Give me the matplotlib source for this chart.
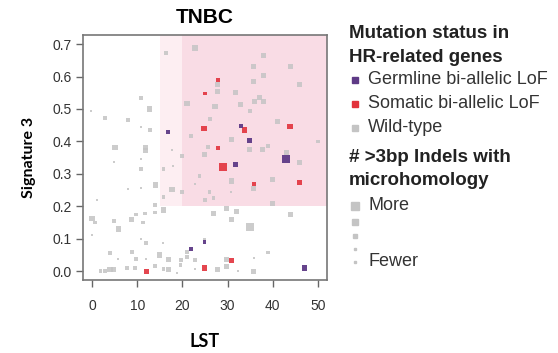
import matplotlib
matplotlib.use("Agg")
from matplotlib import pyplot as plt
from matplotlib.patches import Rectangle
import numpy as np

# wild-type tumours: LST score, signature 3 exposure, microhomology indel level (1 = fewest)
wt_lst = [22.8, 37.9, 35.8, 43.9, 35.8, 37.9, 46.0, 27.8, 31.8, 21.0, 27.2, 32.9, 37.0, 35.9,
          37.9, 34.9, 16.4, 10.8, 12.7, 7.9, 2.9, -0.2, 26.1, 41.0, 10.8, 12.9, 21.9, 30.9,
          34.9, 37.7, 39.0, 43.0, 50.0, 46.0, 24.9, 25.6, 19.9, 17.7, 5.1, 11.9, 11.9, 10.9,
          4.8, 10.9, 15.8, 17.9, 23.8, 30.9, 35.8, 40.0, 22.8, 14.0, 17.7, 19.9, 26.0, 30.8,
          25.0, 26.9, 15.8, 10.9, 7.9, 1.0, 40.0, 29.8, 32.0, 26.9, 30.9, 34.9, 43.9, 15.8,
          14.0, 14.0, 11.8, 9.8, 8.8, 11.2, 4.8, 0.0, 0.7, 5.9, 0.0, 10.9, 15.8, 11.9, 21.0,
          4.0, 8.8, 9.8, 14.9, 16.9, 19.7, 22.8, 21.0, 24.9, 29.8, 29.8, 27.8, 35.8, 35.8,
          39.0, 4.8, 4.0, 2.9, 1.9, 7.7, 9.6, 14.0, 15.8, 22.8, 19.6, 16.9, 5.7, 11.9, 32.4,
          18.8, 27.8]
wt_sig3 = [0.688, 0.666, 0.630, 0.632, 0.584, 0.604, 0.575, 0.555, 0.550, 0.517, 0.507,
           0.513, 0.535, 0.524, 0.524, 0.493, 0.673, 0.534, 0.500, 0.466, 0.473, 0.493,
           0.469, 0.462, 0.445, 0.435, 0.418, 0.406, 0.375, 0.374, 0.386, 0.367, 0.400,
           0.336, 0.360, 0.383, 0.355, 0.374, 0.381, 0.381, 0.371, 0.345, 0.336, 0.316,
           0.314, 0.324, 0.293, 0.278, 0.255, 0.283, 0.270, 0.266, 0.252, 0.244, 0.245,
           0.244, 0.220, 0.226, 0.229, 0.257, 0.252, 0.220, 0.209, 0.194, 0.183, 0.178,
           0.160, 0.137, 0.175, 0.189, 0.203, 0.181, 0.178, 0.175, 0.160, 0.150, 0.155,
           0.163, 0.150, 0.130, 0.112, 0.100, 0.088, 0.087, 0.060, 0.056, 0.060, 0.037,
           0.050, 0.037, 0.034, 0.034, 0.044, 0.098, 0.037, 0.014, 0.006, -0.001, 0.042,
           0.058, 0.006, 0.005, 0.000, 0.000, 0.011, 0.011, 0.016, 0.006, 0.006, 0.018,
           0.006, 0.037, 0.037, 0.001, -0.006, 0.575]
wt_level = [3, 3, 3, 3, 3, 3, 3, 3, 3, 3, 3, 3, 3, 3, 3, 2, 2, 2, 3, 2, 2, 1, 2, 3, 1, 2, 2,
            3, 3, 3, 2, 3, 2, 3, 3, 2, 2, 1, 3, 3, 3, 1, 1, 2, 2, 1, 2, 3, 3, 3, 1, 3, 3, 2,
            2, 1, 2, 2, 2, 1, 1, 1, 3, 3, 3, 3, 3, 4, 3, 3, 2, 2, 2, 2, 3, 2, 2, 3, 2, 3, 1,
            1, 1, 2, 2, 2, 2, 2, 3, 3, 2, 2, 2, 2, 3, 3, 3, 3, 1, 2, 3, 3, 2, 2, 2, 2, 2, 2,
            1, 2, 3, 1, 1, 1, 1, 3]

# germline bi-allelic loss of function
germ_lst = [16.8, 32.9, 34.9, 31.8, 43.0, 24.9, 21.9, 47.0]
germ_sig3 = [0.430, 0.447, 0.404, 0.330, 0.345, 0.090, 0.068, 0.010]
germ_level = [2, 2, 3, 3, 4, 2, 2, 3]

# somatic bi-allelic loss of function
som_lst = [12.0, 25.0, 24.8, 27.8, 27.8, 28.9, 33.8, 43.8, 45.9, 35.8, 24.9, 30.9]
som_sig3 = [0.000, 0.548, 0.440, 0.590, 0.380, 0.320, 0.435, 0.447, 0.274, 0.268, 0.010, 0.033]
som_level = [3, 2, 3, 2, 2, 4, 3, 3, 3, 2, 3, 3]

legend_levels = [4, 3, 2, 1.5, 1]

PURPLE = "#5e3a86"
RED = "#e2323c"
GREY = "#c4c4c4"
sizes = {1: 2.2, 1.5: 4.5, 2: 7.5, 3: 14, 4: 32}


def msize(levels):
    return [sizes[l] for l in levels]


fig = plt.figure(figsize=(5.58, 3.53), dpi=100)
ax = fig.add_axes([0.1487, 0.2068, 0.4373, 0.694])

ax.set_xlim(-2, 52)
ax.set_ylim(-0.027, 0.728)

# HRD region: LST > 15 (faint) and LST > 20 (stronger) with signature 3 > 0.2
ax.add_patch(Rectangle((15, 0.2), 40, 1, facecolor="#fdeef2", edgecolor="none", zorder=0))
ax.add_patch(Rectangle((20, 0.2), 40, 1, facecolor="#f9dce5", edgecolor="none", zorder=0))

ax.scatter(wt_lst, wt_sig3, s=msize(wt_level), marker="s", color=GREY, alpha=0.85,
           linewidths=0, zorder=2)
ax.scatter(som_lst, som_sig3, s=msize(som_level), marker="s", color=RED, alpha=0.9,
           linewidths=0, zorder=3)
ax.scatter(germ_lst, germ_sig3, s=msize(germ_level), marker="s", color=PURPLE, alpha=0.95,
           linewidths=0, zorder=4)

ax.set_xticks(np.arange(0, 51, 10))
ax.set_yticks(np.arange(0, 0.71, 0.1))
ax.set_yticklabels([f"{v:.1f}" for v in np.arange(0, 0.71, 0.1)])
ax.tick_params(direction="out", length=5, width=1, color="#666666", labelcolor="#333333",
               labelsize=10)
ax.tick_params(axis="x", pad=9)
ax.tick_params(axis="y", pad=3)
for lab in ax.get_xticklabels() + ax.get_yticklabels():
    lab.set_family("Liberation Sans")
for sp in ax.spines.values():
    sp.set_color("#777777")
    sp.set_linewidth(1.2)

ax.set_title("TNBC", fontsize=15, fontweight="bold", family="Liberation Sans", pad=9)
ax.set_xlabel("LST", fontsize=13, fontweight="bold", family="Lato", labelpad=14)
ax.set_ylabel("Signature 3", fontsize=11.5, fontweight="bold", family="Lato", labelpad=12)

# legend drawn by hand on the right
def fy(py):
    return 1 - py / 353


def fx(px):
    return px / 558


hdr = dict(fontsize=13.5, fontweight="bold", family="Liberation Sans", va="center",
           ha="left", color="#222222")
item = dict(fontsize=13, family="Liberation Sans", va="center", ha="left", color="#333333")

fig.text(fx(349), fy(34), "Mutation status in", **hdr)
fig.text(fx(349), fy(57), "HR-related genes", **hdr)
for py, col, lab in [(80, PURPLE, "Germline bi-allelic LoF"),
                     (104, RED, "Somatic bi-allelic LoF"),
                     (128, GREY, "Wild-type")]:
    fig.lines.append(plt.Line2D([fx(355)], [fy(py)], marker="s", markersize=4.5,
                                color=col, transform=fig.transFigure, linestyle="none"))
    fig.text(fx(368), fy(py), lab, **item)

fig.text(fx(349), fy(158), "# >3bp Indels with", **hdr)
fig.text(fx(349), fy(181), "microhomology", **hdr)
for py, lvl in zip([206, 222, 236, 249, 262], legend_levels):
    fig.lines.append(plt.Line2D([fx(355)], [fy(py)], marker="s",
                                markersize=np.sqrt(sizes[lvl]), color=GREY,
                                transform=fig.transFigure, linestyle="none"))
fig.text(fx(368), fy(206), "More", **item)
fig.text(fx(368), fy(262), "Fewer", **item)

fig.savefig("out.png", dpi=100)
